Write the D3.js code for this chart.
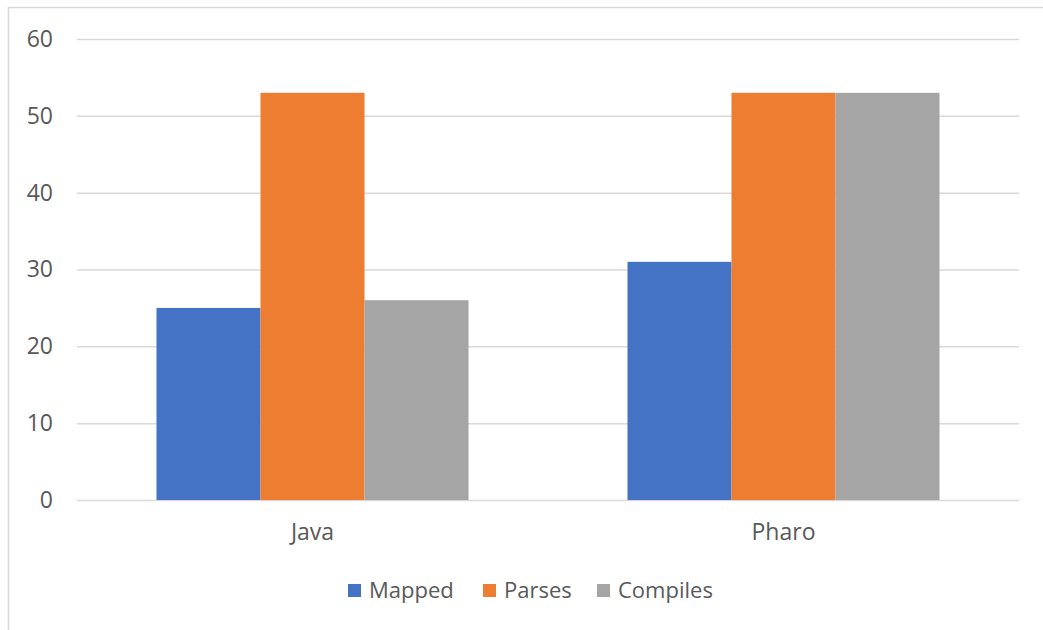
<!DOCTYPE html>
<html><head><meta charset="utf-8">
<script src="https://cdn.jsdelivr.net/npm/d3@7"></script>
<style>body{margin:0;background:#fff;}svg{display:block;}</style>
</head><body>
<svg id="chart" width="1043" height="630"></svg>
<script>
const categories = ["Java", "Pharo"];
const seriesNames = ["Mapped", "Parses", "Compiles"];
const mapped = [25, 31];
const parses = [53, 53];
const compiles = [26, 53];
const yTicks = [0, 10, 20, 30, 40, 50, 60];
const colors = ["#4472C4", "#ED7D31", "#A5A5A5"];

(function () {
const series = [mapped, parses, compiles];
const svg = d3.select("#chart");
const font = "'Open Sans', 'Liberation Sans', sans-serif";

svg.append("rect").attr("x", 8.5).attr("y", 7.5).attr("width", 1100).attr("height", 700)
  .attr("fill", "none").attr("stroke", "#d9d9d9").attr("stroke-width", 1.5);

const mLeft = 77, mRight = 1019, mTop = 39, mBottom = 500;
const y = d3.scaleLinear().domain([0, 60]).range([mBottom, mTop]);
const x0 = d3.scaleBand().domain(categories).range([mLeft, mRight]).paddingInner(0.3375).paddingOuter(0.3375 / 2);
const x1 = d3.scaleBand().domain(seriesNames).range([0, x0.bandwidth()]).padding(0);

const yAxis = svg.append("g").attr("transform", `translate(${mLeft},0)`)
  .call(d3.axisLeft(y).tickValues(yTicks).tickSize(-(mRight - mLeft)).tickPadding(24).tickFormat(d3.format("d")));
yAxis.select(".domain").remove();
yAxis.selectAll(".tick line").attr("stroke", "#d9d9d9").attr("stroke-width", 1.5);
yAxis.selectAll(".tick text").attr("fill", "#595959").style("font-family", font).style("font-size", "23px");

const groups = svg.append("g").selectAll("g").data(categories).join("g")
  .attr("transform", d => `translate(${x0(d)},0)`);
groups.selectAll("rect").data((c, i) => seriesNames.map((s, j) => ({s, j, v: series[j][i]})))
  .join("rect")
  .attr("x", d => x1(d.s)).attr("width", x1.bandwidth())
  .attr("y", d => y(d.v)).attr("height", d => y(0) - y(d.v))
  .attr("fill", d => colors[d.j]);

const xAxis = svg.append("g").attr("transform", `translate(0,${mBottom})`)
  .call(d3.axisBottom(x0).tickSize(0).tickPadding(24));
xAxis.select(".domain").remove();
xAxis.selectAll(".tick text").attr("fill", "#595959").style("font-family", font).style("font-size", "23px");

const legendItems = [{x: 348, tx: 369}, {x: 483, tx: 504}, {x: 597, tx: 618}];
const lg = svg.append("g");
seriesNames.forEach((s, j) => {
  lg.append("rect").attr("x", legendItems[j].x).attr("y", 584).attr("width", 13).attr("height", 13).attr("fill", colors[j]);
  lg.append("text").attr("x", legendItems[j].tx).attr("y", 598).text(s)
    .attr("fill", "#595959").style("font-family", font).style("font-size", "22px");
});
})();
</script>
</body></html>
